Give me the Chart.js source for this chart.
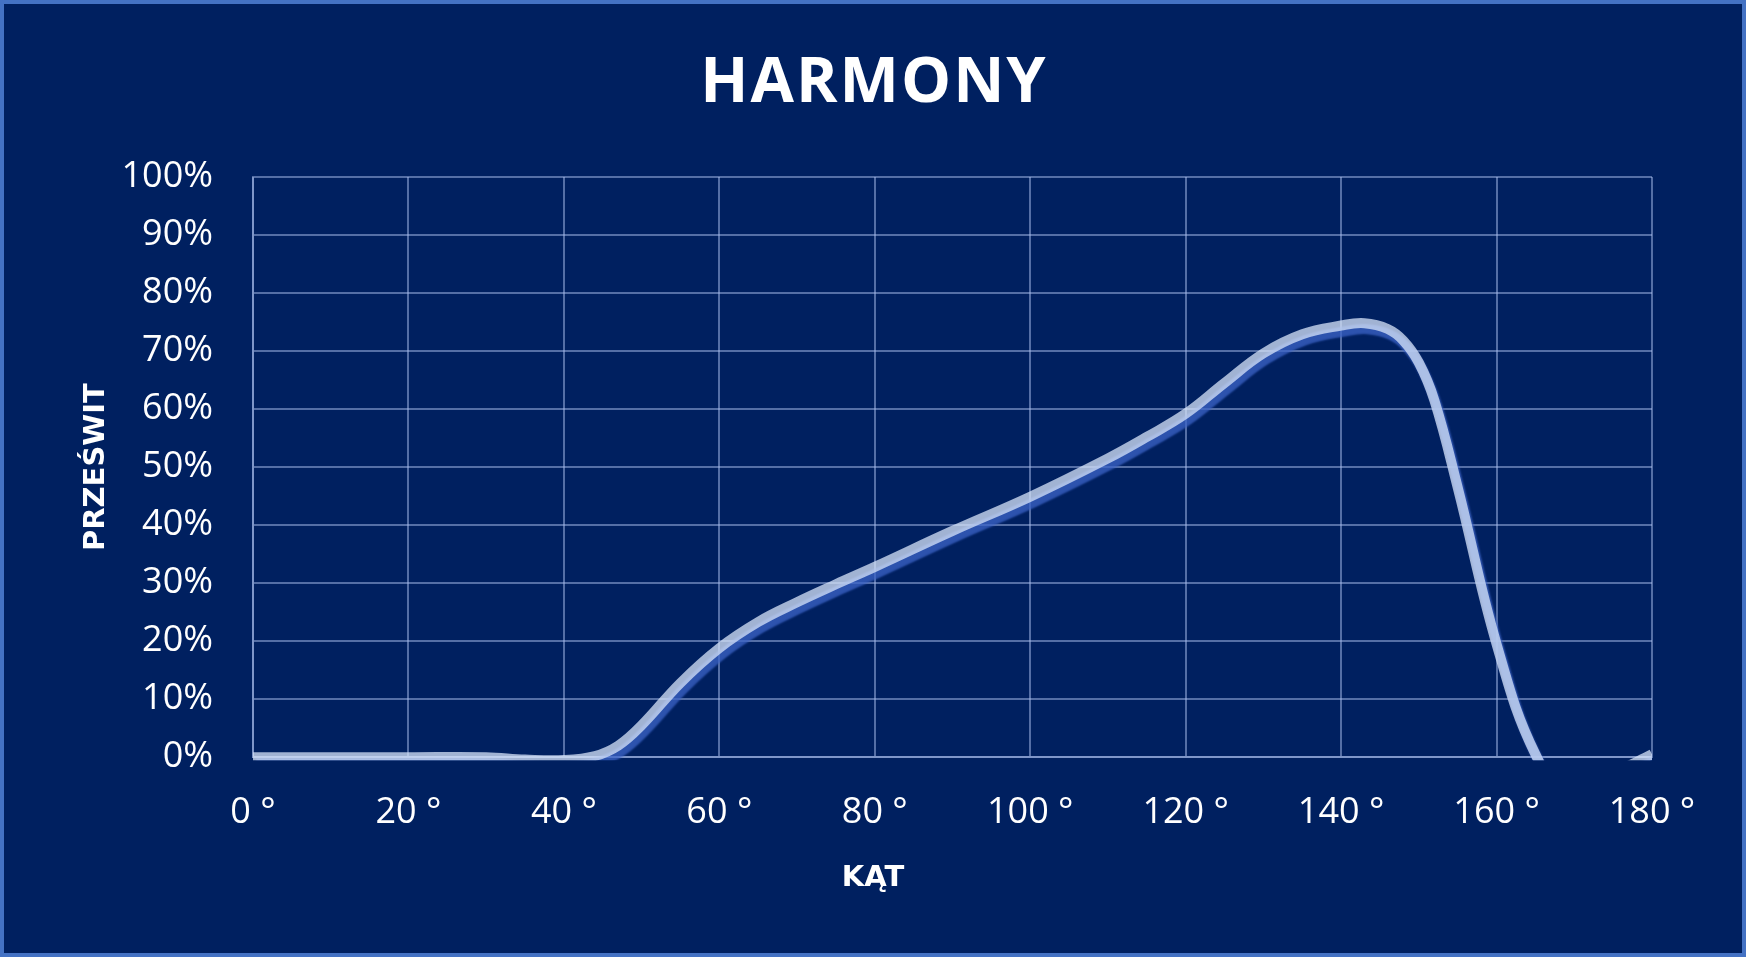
<!DOCTYPE html>
<html>
<head>
<meta charset="utf-8">
<script src="https://cdn.jsdelivr.net/npm/chart.js@4.4.1/dist/chart.umd.min.js"></script>
<style>
  html, body { margin: 0; padding: 0; background: #002060; }
  #wrap {
    position: relative;
    width: 1746px;
    height: 957px;
    background: #002060;
    box-shadow: inset 0 0 0 4px #4472c4;
  }
  #title {
    position: absolute;
    top: 46px;
    left: 0;
    width: 1746px;
    padding-left: 2px;
    box-sizing: border-box;
    text-align: center;
    font: bold 63px/63px "Open Sans", sans-serif;
    letter-spacing: 2px;
    color: #ffffff;
  }
  #myChart { position: absolute; left: 0; top: 0; }
</style>
</head>
<body>
<div id="wrap">
  <canvas id="myChart" width="1746" height="957"></canvas>
  <div id="title">HARMONY</div>
</div>
<script>
var angles = [0, 10, 20, 30, 35, 40, 44, 47, 50, 55, 60, 65, 70, 75, 80, 90, 100, 110, 115, 120,
  125, 130, 135, 140, 143, 146, 148, 150, 152, 155, 160, 165, 170, 175, 180];
var przeswit = [0, 0, 0, 0, -0.4, -0.5, 0.2, 2, 5.5, 12.8, 18.8, 23.3, 26.7, 29.8, 32.8, 39, 44.9, 51.5, 55.2, 59.2,
  64.5, 69.6, 72.9, 74.4, 74.8, 73.8, 71.8, 68, 61.5, 46.5, 19.5, 0.5, -8, -3, 0.5];
var xTicks = [0, 20, 40, 60, 80, 100, 120, 140, 160, 180];
var yTicks = [0, 10, 20, 30, 40, 50, 60, 70, 80, 90, 100];

var gridColor = "rgba(170,190,235,0.5)",
  tickFont = { family: "'Open Sans', sans-serif", size: 36 },
  boldFont = { family: "'DejaVu Sans', sans-serif", size: 29, weight: "bold" };

var points = angles.map(function(a, i) {
  return { x: a, y: przeswit[i] };
});

// dark blue shadow under the line
var lineShadow = {
  id: "lineShadow",
  beforeDatasetDraw: function(chart) {
    var c = chart.ctx;
    c.save();
    c.shadowColor = "rgb(60,100,200)";
    c.shadowOffsetX = 3;
    c.shadowOffsetY = 6;
    c.shadowBlur = 2;
  },
  afterDatasetDraw: function(chart) {
    chart.ctx.restore();
  }
};

var ctx = document.getElementById("myChart"),
  config = {
    type: "line",
    data: {
      datasets: [
        {
          data: points,
          borderColor: "rgba(215,228,250,0.75)",
          borderWidth: 10,
          pointRadius: 0,
          tension: 0.4,
          clip: { left: 0, top: 10, right: 0, bottom: 3 }
        }
      ]
    },
    options: {
      responsive: false,
      animation: false,
      layout: { padding: { top: 177, right: 0, bottom: 0, left: 0 } },
      plugins: {
        legend: { display: false },
        tooltip: { enabled: false },
        subtitle: {
          display: true,
          position: "bottom",
          text: "KĄT",
          color: "#ffffff",
          font: boldFont,
          padding: { top: 27, bottom: 61 }
        }
      },
      scales: {
        x: {
          type: "linear",
          min: 0,
          max: 180,
          afterBuildTicks: function(scale) {
            scale.ticks = xTicks.map(function(v) { return { value: v }; });
          },
          afterFit: function(scale) { scale.height = 77; },
          ticks: {
            color: "#ffffff",
            font: tickFont,
            padding: 34,
            maxRotation: 0,
            callback: function(v) { return v + " °"; }
          },
          grid: { color: gridColor, lineWidth: 2, drawTicks: false },
          border: { color: gridColor, width: 2 }
        },
        y: {
          min: 0,
          max: 100,
          afterBuildTicks: function(scale) {
            scale.ticks = yTicks.map(function(v) { return { value: v }; });
          },
          afterFit: function(scale) { scale.width = 253; },
          ticks: {
            color: "#ffffff",
            font: tickFont,
            padding: 40,
            callback: function(v) { return v + "%"; }
          },
          grid: { color: gridColor, lineWidth: 2, drawTicks: false },
          border: { color: gridColor, width: 2 },
          title: {
            display: true,
            text: "PRZEŚWIT",
            color: "#ffffff",
            font: boldFont,
            padding: { top: 79, bottom: 0 }
          }
        },
        // empty right margin so the bottom title stays centred on the page
        yRight: {
          position: "right",
          min: 0,
          max: 100,
          afterFit: function(scale) { scale.width = 94; },
          ticks: { display: false },
          grid: { display: false },
          border: { display: false }
        }
      }
    },
    plugins: [lineShadow]
  };

myChart = new Chart(ctx, config);
</script>
</body>
</html>
